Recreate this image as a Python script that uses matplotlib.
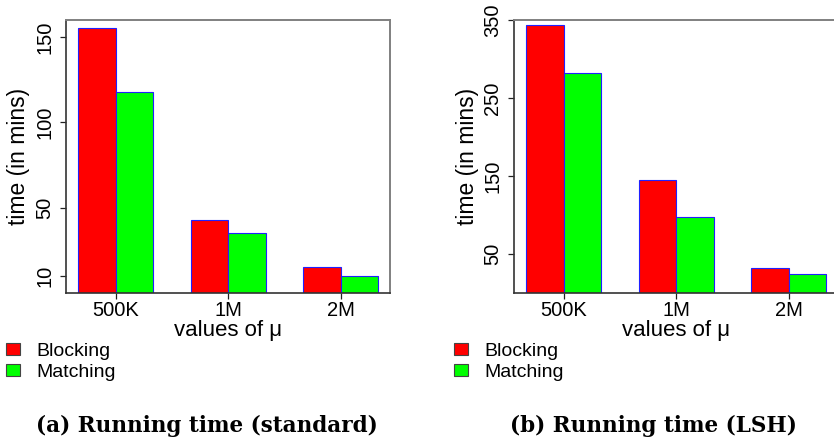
import numpy as np
import matplotlib.pyplot as plt

plt.rcParams['font.family'] = 'Liberation Sans'

methods = ['Blocking', 'Matching']
mu_labels = ['500K', '1M', '2M']

# running time in minutes, standard blocking
std_blocking = [155.6, 42.8, 15.1]
std_matching = [117.8, 35.0, 10.0]
std_ticks = [10, 50, 100, 150]

# running time in minutes, LSH blocking
lsh_blocking = [344, 145, 32]
lsh_matching = [282, 98, 24.5]
lsh_ticks = [50, 150, 250, 350]

bar_colors = ['#ff0000', '#00ff00']


def draw_panel(ax, blocking, matching, yticks, ymax, legend_x):
    groups = np.arange(len(mu_labels)) * 3 + 1
    for k, vals in enumerate([blocking, matching]):
        ax.bar(groups + k, vals, width=1, align='edge', color=bar_colors[k],
               edgecolor='#2020ff', linewidth=0.8, label=methods[k])
    ax.set_xlim(0.68, 9.32)
    ax.set_ylim(0, ymax)
    ax.set_xticks(groups + 1)
    ax.set_xticklabels(mu_labels)
    ax.set_yticks(yticks)
    ax.tick_params(axis='both', direction='out', length=4.5, width=0.9,
                   color='#222222', labelsize=14.5)
    ax.tick_params(axis='x', pad=1.5)
    ax.tick_params(axis='y', pad=4, labelrotation=90)
    for lab in ax.get_yticklabels():
        lab.set_va('center')
    for side in ['left', 'bottom']:
        ax.spines[side].set_color('#333333')
        ax.spines[side].set_linewidth(1.2)
    for side in ['top', 'right']:
        ax.spines[side].set_color('#808080')
        ax.spines[side].set_linewidth(1.4)
    ax.set_xlabel('values of μ', fontsize=16)
    ax.set_ylabel('time (in mins)', fontsize=16.5)
    ax.xaxis.set_label_coords(0.5, -0.1)
    ax.yaxis.set_label_coords(-0.11, 0.5)
    ax.legend(loc='upper left', bbox_to_anchor=(legend_x, 1 - 343 / 440),
              bbox_transform=fig.transFigure, frameon=False, fontsize=14,
              handlelength=0.7, handleheight=0.55, handletextpad=0.85,
              labelspacing=0.2, borderpad=0, borderaxespad=0)
    for h in ax.get_legend().legend_handles:
        h.set_edgecolor('#444444')
        h.set_linewidth(0.8)


fig = plt.figure(figsize=(8.34, 4.40), dpi=100)
ax1 = fig.add_axes([66 / 834, 1 - 293 / 440, 324 / 834, 273 / 440])
ax2 = fig.add_axes([514.3 / 834, 1 - 293 / 440, 324 / 834, 273 / 440])

draw_panel(ax1, std_blocking, std_matching, std_ticks, 160, 6 / 834)
draw_panel(ax2, lsh_blocking, lsh_matching, lsh_ticks, 350, 454 / 834)

cap = dict(ha='center', va='center', fontsize=15.5,
           family='DejaVu Serif', weight='bold')
fig.text(206.5 / 834, 1 - 426 / 440, '(a) Running time (standard)', **cap)
fig.text(653 / 834, 1 - 426 / 440, '(b) Running time (LSH)', **cap)

fig.savefig('out.png', dpi=100)
